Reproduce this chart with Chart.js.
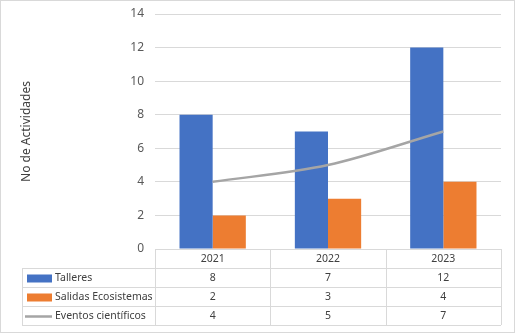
<!DOCTYPE html>
<html>
<head>
<meta charset="utf-8">
<script src="https://cdn.jsdelivr.net/npm/chart.js@4.4.0/dist/chart.umd.min.js"></script>
<style>
  html, body { margin: 0; padding: 0; background: #fff; }
  #wrap { position: relative; width: 515px; height: 333px; box-sizing: border-box; border: 1px solid #d9d9d9; }
</style>
</head>
<body>
<div id="wrap"><canvas id="chart" width="513" height="331"></canvas></div>
<script>
// values
const years = ['2021', '2022', '2023'];
const talleres = [8, 7, 12];
const salidas = [2, 3, 4];
const eventos = [4, 5, 7];
const seriesNames = ['Talleres', 'Salidas Ecosistemas', 'Eventos científicos'];

const FONT = "'Noto Sans', sans-serif";
const TEXT = '#404040';
const GRID = '#d9d9d9';

// draws the Excel-style data table under the plot, using the x scale for columns
const dataTable = {
  id: 'dataTable',
  afterDraw(chart) {
    const ctx = chart.ctx;
    const x = chart.scales.x;
    const area = chart.chartArea;
    const rowH = 19;
    const top = area.bottom;
    const leftCol = 21;
    const step = x.getPixelForValue(1) - x.getPixelForValue(0);
    const edges = [area.left];
    years.forEach((y, i) => edges.push(x.getPixelForValue(i) + step / 2));
    const rows = [talleres, salidas, eventos];
    const sets = chart.data.datasets;

    ctx.save();
    ctx.strokeStyle = GRID;
    ctx.lineWidth = 1;
    ctx.beginPath();
    ctx.moveTo(area.left, top + 0.5); ctx.lineTo(area.right, top + 0.5);
    for (let r = 1; r <= 4; r++) {
      const yy = Math.round(top + r * rowH) + 0.5;
      ctx.moveTo(leftCol, yy); ctx.lineTo(area.right, yy);
    }
    edges.forEach(e => {
      const xx = Math.round(e) + 0.5;
      ctx.moveTo(xx, top); ctx.lineTo(xx, top + 4 * rowH);
    });
    const lx = leftCol + 0.5;
    ctx.moveTo(lx, top + rowH); ctx.lineTo(lx, top + 4 * rowH);
    ctx.stroke();

    ctx.font = '10.5px ' + FONT;
    ctx.fillStyle = TEXT;
    ctx.textAlign = 'center';
    ctx.textBaseline = 'middle';
    years.forEach((y, i) => ctx.fillText(y, x.getPixelForValue(i), top + rowH / 2 + 1));
    rows.forEach((vals, r) => {
      const cy = top + (r + 1.5) * rowH + 1;
      vals.forEach((v, i) => ctx.fillText(String(v), x.getPixelForValue(i), cy));
    });

    // legend keys + series names
    ctx.textAlign = 'left';
    rows.forEach((vals, r) => {
      const cy = top + (r + 1.5) * rowH;
      const ds = sets[r];
      if (ds.type === 'bar') {
        ctx.fillStyle = ds.backgroundColor;
        ctx.fillRect(26, cy - 3, 25, 8);
      } else {
        ctx.strokeStyle = ds.borderColor;
        ctx.lineWidth = 2.5;
        ctx.beginPath();
        ctx.moveTo(24, cy + 1); ctx.lineTo(51, cy + 1);
        ctx.stroke();
      }
      ctx.fillStyle = TEXT;
      ctx.fillText(seriesNames[r], 54, cy + 1);
    });
    ctx.restore();
  }
};

new Chart(document.getElementById('chart'), {
  data: {
    labels: years,
    datasets: [
      {
        type: 'bar', label: seriesNames[0], data: talleres,
        backgroundColor: '#4472c4', categoryPercentage: 0.575, barPercentage: 1, order: 1
      },
      {
        type: 'bar', label: seriesNames[1], data: salidas,
        backgroundColor: '#ed7d31', categoryPercentage: 0.575, barPercentage: 1, order: 1
      },
      {
        type: 'line', label: seriesNames[2], data: eventos,
        borderColor: '#a5a5a5', borderWidth: 2.5, pointRadius: 0,
        cubicInterpolationMode: 'monotone', order: 0
      }
    ]
  },
  options: {
    responsive: false,
    animation: false,
    layout: { padding: { top: 13, right: 13, bottom: 83, left: 0 } },
    plugins: { legend: { display: false }, tooltip: { enabled: false } },
    scales: {
      x: { display: false },
      y: {
        min: 0, max: 14,
        ticks: { stepSize: 2, padding: 11, color: '#595959', font: { size: 12, family: FONT } },
        grid: { color: GRID, drawTicks: false },
        border: { display: false },
        title: {
          display: true, text: 'No de Actividades', color: TEXT,
          font: { size: 12, family: FONT }, padding: { top: 18, bottom: 0 }
        },
        afterFit(scale) {
          scale.width = 154;
          scale.paddingTop = 0;
          scale.paddingBottom = 0;
        }
      }
    }
  },
  plugins: [dataTable]
});
</script>
</body>
</html>
